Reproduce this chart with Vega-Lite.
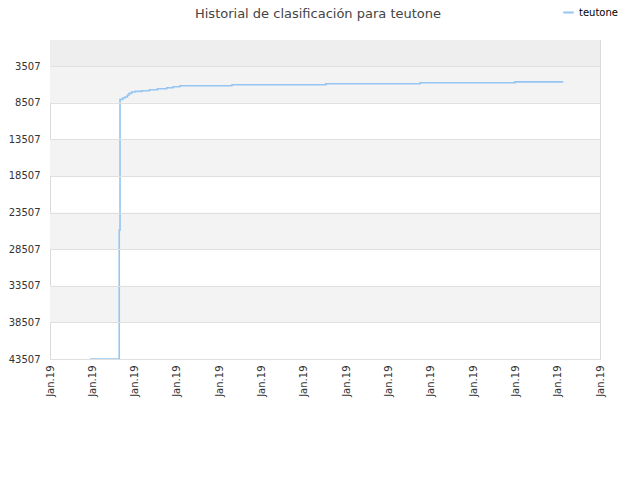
{
  "$schema": "https://vega.github.io/schema/vega-lite/v6.json",
  "autosize": {"type": "none"},
  "padding": {"left": 50, "top": 40, "right": 40, "bottom": 121},
  "width": 550,
  "height": 319,
  "title": {
    "text": "Historial de clasificación para teutone",
    "font": "DejaVu Sans",
    "fontSize": 13,
    "fontWeight": "normal",
    "color": "#444444",
    "anchor": "middle",
    "offset": 0,
    "dy": 15,
    "dx": -7
  },
  "config": {
    "view": {"stroke": "#d9d9d9", "strokeWidth": 1},
    "font": "DejaVu Sans",
    "axisY": {"labelOverlap": false}
  },
  "datasets": {
    "bands": [
      {"from": -50, "to": 3507, "shade": "top"},
      {"from": 3507, "to": 8507, "shade": "grey"},
      {"from": 13507, "to": 18507, "shade": "grey"},
      {"from": 23507, "to": 28507, "shade": "grey"},
      {"from": 33507, "to": 38507, "shade": "grey"}
    ],
    "ranks": [
      {"player": "teutone", "date": "2019-01-01T22:42", "rank": 43507},
      {"player": "teutone", "date": "2019-01-02T15:17", "rank": 25909},
      {"player": "teutone", "date": "2019-01-02T15:43", "rank": 8056},
      {"player": "teutone", "date": "2019-01-02T17:17", "rank": 7878},
      {"player": "teutone", "date": "2019-01-02T18:29", "rank": 7742},
      {"player": "teutone", "date": "2019-01-02T19:55", "rank": 7468},
      {"player": "teutone", "date": "2019-01-02T20:53", "rank": 7236},
      {"player": "teutone", "date": "2019-01-02T22:19", "rank": 7059},
      {"player": "teutone", "date": "2019-01-03T00:14", "rank": 6963},
      {"player": "teutone", "date": "2019-01-03T04:05", "rank": 6881},
      {"player": "teutone", "date": "2019-01-03T08:24", "rank": 6744},
      {"player": "teutone", "date": "2019-01-03T12:58", "rank": 6608},
      {"player": "teutone", "date": "2019-01-03T18:14", "rank": 6471},
      {"player": "teutone", "date": "2019-01-03T21:50", "rank": 6335},
      {"player": "teutone", "date": "2019-01-04T01:41", "rank": 6198},
      {"player": "teutone", "date": "2019-01-05T07:12", "rank": 6062},
      {"player": "teutone", "date": "2019-01-07T12:29", "rank": 5925},
      {"player": "teutone", "date": "2019-01-09T18:00", "rank": 5788},
      {"player": "teutone", "date": "2019-01-11T23:46", "rank": 5665},
      {"player": "teutone", "date": "2019-01-13T03:07", "rank": 5665}
    ]
  },
  "layer": [
    {
      "data": {"name": "bands"},
      "mark": {"type": "rect"},
      "encoding": {
        "y": {
          "field": "from",
          "type": "quantitative",
          "scale": {"domain": [-50, 43507], "reverse": true, "nice": false, "zero": false},
          "axis": {
            "title": null,
            "values": [3507, 8507, 13507, 18507, 23507, 28507, 33507, 38507, 43507],
            "format": "d",
            "labelFont": "DejaVu Sans",
            "labelFontSize": 10,
            "labelColor": "#333333",
            "labelPadding": 10,
            "labelOverlap": false,
            "gridColor": "#e0e0e0",
            "ticks": false,
            "domain": false,
            "zindex": 1
          }
        },
        "y2": {"field": "to"},
        "fill": {
          "field": "shade",
          "type": "nominal",
          "scale": {"domain": ["top", "grey"], "range": ["#eeeeee", "#f3f3f3"]},
          "legend": null
        }
      }
    },
    {
      "data": {"name": "ranks"},
      "mark": {"type": "line", "interpolate": "step-after", "strokeWidth": 1.6},
      "encoding": {
        "x": {
          "field": "date",
          "type": "temporal",
          "scale": {"domain": ["2019-01-01T00:00", "2019-01-14T00:00"]},
          "axis": {
            "title": null,
            "format": "%b.%y",
            "tickCount": {"interval": "day", "step": 1},
            "labelAngle": 270,
            "labelFont": "DejaVu Sans",
            "labelFontSize": 10,
            "labelColor": "#333333",
            "labelPadding": 6,
            "grid": false,
            "ticks": false,
            "domain": false,
            "labelOverlap": false,
            "labelFlush": false
          }
        },
        "y": {
          "field": "rank",
          "type": "quantitative",
          "axis": {
            "title": null,
            "values": [3507, 8507, 13507, 18507, 23507, 28507, 33507, 38507, 43507],
            "format": "d",
            "labelFont": "DejaVu Sans",
            "labelFontSize": 10,
            "labelColor": "#333333",
            "labelPadding": 10,
            "labelOverlap": false,
            "gridColor": "#e0e0e0",
            "ticks": false,
            "domain": false,
            "zindex": 1
          }
        },
        "stroke": {
          "field": "player",
          "type": "nominal",
          "scale": {"domain": ["teutone"], "range": ["#94c5f3"]},
          "legend": {
            "title": null,
            "orient": "none",
            "legendX": 512,
            "legendY": -34,
            "symbolType": "stroke",
            "symbolStrokeWidth": 2,
            "symbolSize": 110,
            "labelFont": "DejaVu Sans",
            "labelFontSize": 10,
            "labelColor": "#000000"
          }
        }
      }
    }
  ]
}
